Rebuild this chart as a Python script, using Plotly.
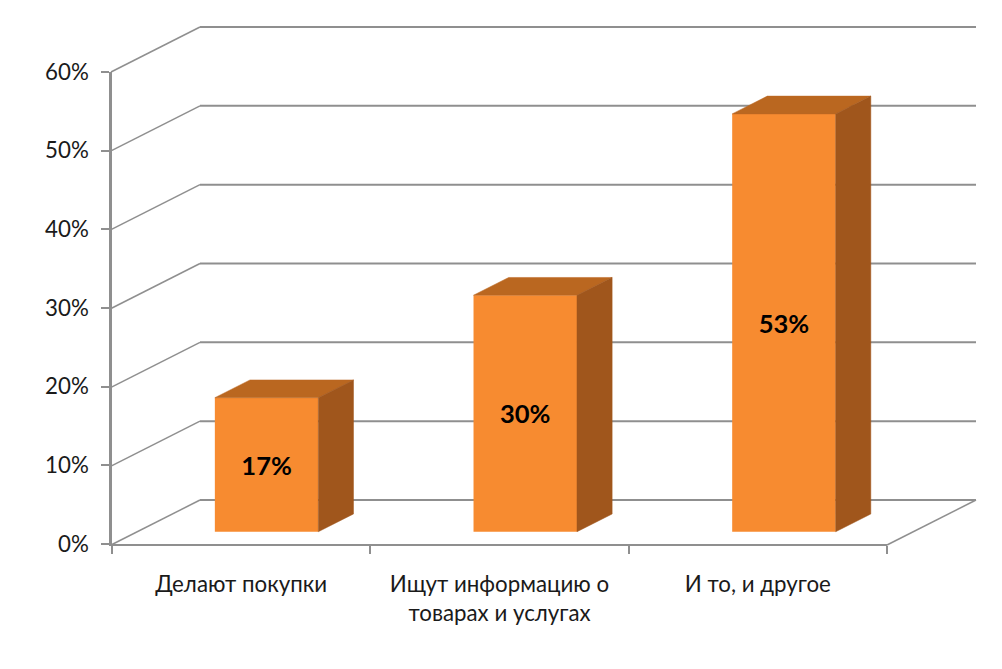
import plotly.graph_objects as go

categories = ["Делают покупки", "Ищут информацию о<br>товарах и услугах", "И то, и другое"]
values = [17, 30, 53]
y_ticks = [0, 10, 20, 30, 40, 50, 60]
y_labels = ["0%", "10%", "20%", "30%", "40%", "50%", "60%"]
x_bounds = [0, 1, 2, 3]

# oblique projection of the excel style 3d box
PX_X = 258.67
PX_Y = 7.89
DEPTH_X = 89 / PX_X
DEPTH_Y = 45 / PX_Y
BAR_WIDTH = 0.4
BAR_FRONT = 0.295
BAR_BACK = 0.69

# plot area is a bit bigger than the box so the edge lines are not clipped
PAD = 10
PLOT_W = 3 * PX_X + 89 + 2 * PAD
PLOT_H = 60 * PX_Y + 45 + 2 * PAD
# axis lines sit outside their domain, move them back on to the box edge
LINE_SHIFT = 1

GRID = "#8f8f8f"
FONT = "Lato"


def project(x, y, depth=0.0):
    return x + depth * DEPTH_X, y + depth * DEPTH_Y


def poly(points):
    xs = [p[0] for p in points] + [points[0][0]]
    ys = [p[1] for p in points] + [points[0][1]]
    return xs, ys


def line_trace(points, width=1.5):
    return go.Scatter(
        x=[p[0] for p in points],
        y=[p[1] for p in points],
        mode="lines",
        line=dict(color=GRID, width=width),
        hoverinfo="skip",
        showlegend=False,
    )


def face_trace(points, color):
    xs, ys = poly(points)
    return go.Scatter(
        x=xs,
        y=ys,
        mode="lines",
        fill="toself",
        fillcolor=color,
        line=dict(color=color, width=0.5),
        xaxis="x2",
        yaxis="y2",
        hoverinfo="skip",
        showlegend=False,
    )


fig = go.Figure()

# walls and floor
for t in y_ticks:
    fig.add_trace(line_trace([project(0, t), project(0, t, 1)]))
    fig.add_trace(line_trace([project(0, t, 1), project(3, t, 1)], width=2))
fig.add_trace(line_trace([project(3, 0), project(3, 0, 1)]))

# bars
base_x, base_y = project(0, 0, BAR_FRONT)
fig.add_trace(
    go.Bar(
        x=[i + 0.5 + base_x for i in range(len(values))],
        y=values,
        base=base_y,
        width=BAR_WIDTH,
        marker=dict(color="#f78b30", line=dict(width=0)),
        text=[f"{v}%" for v in values],
        textposition="inside",
        insidetextanchor="middle",
        textangle=0,
        textfont=dict(family=FONT, size=25.5, color="black", weight="bold"),
        xaxis="x2",
        yaxis="y2",
        hoverinfo="skip",
        showlegend=False,
    )
)
for i, v in enumerate(values):
    left = i + 0.5 - BAR_WIDTH / 2
    right = i + 0.5 + BAR_WIDTH / 2
    fig.add_trace(
        face_trace(
            [
                project(left, v, BAR_FRONT),
                project(right, v, BAR_FRONT),
                project(right, v, BAR_BACK),
                project(left, v, BAR_BACK),
            ],
            "#ba6720",
        )
    )
    fig.add_trace(
        face_trace(
            [
                project(right, 0, BAR_FRONT),
                project(right, v, BAR_FRONT),
                project(right, v, BAR_BACK),
                project(right, 0, BAR_BACK),
            ],
            "#a0561c",
        )
    )

# empty trace so the labelled axes get drawn
fig.add_trace(
    go.Scatter(x=[None], y=[None], xaxis="x3", yaxis="y3", hoverinfo="skip", showlegend=False)
)

x_range = [-PAD / PX_X, (PLOT_W - PAD) / PX_X]
y_range = [-PAD / PX_Y, (PLOT_H - PAD) / PX_Y]
hidden = dict(visible=False, fixedrange=True)

fig.update_layout(
    width=1002,
    height=669,
    margin=dict(
        l=111 - PAD,
        r=1002 - 111 - PLOT_W + PAD,
        t=669 - 124 - PLOT_H + PAD,
        b=124 - PAD,
        autoexpand=False,
    ),
    paper_bgcolor="white",
    plot_bgcolor="rgba(0,0,0,0)",
    showlegend=False,
    font=dict(family=FONT, size=22.3, color="#1a1a1a"),
    xaxis=dict(range=x_range, **hidden),
    yaxis=dict(range=y_range, **hidden),
    xaxis2=dict(range=x_range, overlaying="x", **hidden),
    yaxis2=dict(range=y_range, overlaying="y", **hidden),
    xaxis3=dict(
        domain=[(PAD + LINE_SHIFT) / PLOT_W, (PAD + 3 * PX_X) / PLOT_W],
        anchor="y3",
        range=[0, 3],
        tickmode="array",
        tickvals=[i + 0.5 for i in range(len(categories))],
        ticktext=categories,
        ticks="",
        ticklabelstandoff=19,
        showgrid=False,
        showline=True,
        linecolor=GRID,
        linewidth=2,
        zeroline=False,
        minor=dict(
            tickmode="array",
            tickvals=x_bounds,
            ticks="outside",
            ticklen=8,
            tickwidth=2,
            tickcolor=GRID,
            showgrid=False,
        ),
    ),
    yaxis3=dict(
        domain=[(PAD + LINE_SHIFT) / PLOT_H, (PAD + 60 * PX_Y) / PLOT_H],
        anchor="x3",
        range=[0, 60],
        tickmode="array",
        tickvals=y_ticks,
        ticktext=y_labels,
        ticks="outside",
        ticklen=8,
        tickwidth=2,
        tickcolor=GRID,
        ticklabelstandoff=8,
        showgrid=False,
        showline=True,
        linecolor=GRID,
        linewidth=2.5,
        zeroline=False,
    ),
)

fig.write_html(
    "out.html",
    config=dict(displayModeBar=False),
    post_script="document.body.style.margin='0';",
)
